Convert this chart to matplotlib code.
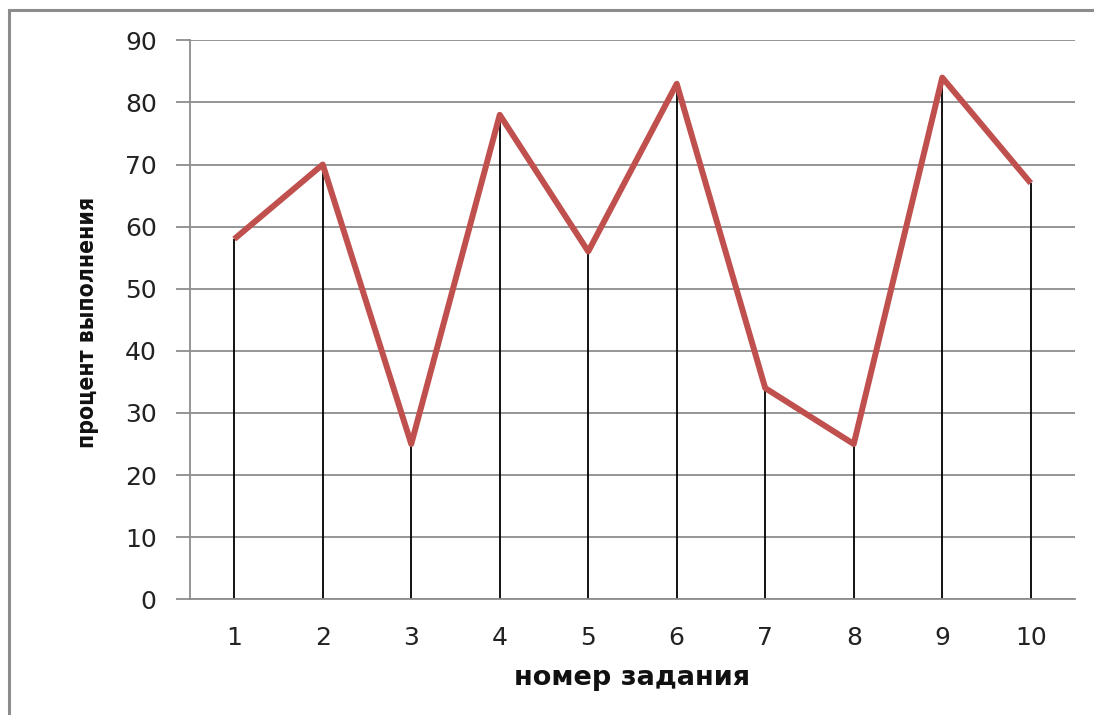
import matplotlib
matplotlib.use("Agg")
import matplotlib.pyplot as plt
from matplotlib.patches import Rectangle

tasks = [1, 2, 3, 4, 5, 6, 7, 8, 9, 10]
percent = [58, 70, 25, 78, 56, 83, 34, 25, 84, 67]
y_ticks = [0, 10, 20, 30, 40, 50, 60, 70, 80, 90]
x_label = "номер задания"
y_label = "процент выполнения"

fig = plt.figure(figsize=(10.94, 7.15), dpi=100)
fig.patch.set_facecolor("white")

# outer chart frame
fig.patches.append(Rectangle((9 / 1094, -0.05), 1.2, 1 - 10 / 715 + 0.05,
                             transform=fig.transFigure, fill=False,
                             edgecolor="#8c8c8c", linewidth=2.2, zorder=0))

ax = fig.add_axes([190 / 1094, 1 - 599.3 / 715, (1075 - 190) / 1094, (599.3 - 40.3) / 715])

ax.set_xlim(0.5, 10.5)
ax.set_ylim(0, 90)
ax.set_yticks(y_ticks)
ax.set_xticks(tasks)
ax.set_xticklabels([str(t) for t in tasks])

ax.grid(axis="y", color="#8c8c8c", linewidth=1.3, zorder=0)
ax.set_axisbelow(True)

for s in ["top", "right"]:
    ax.spines[s].set_visible(False)
for s in ["left", "bottom"]:
    ax.spines[s].set_color("#8c8c8c")
    ax.spines[s].set_linewidth(1.3)

ax.tick_params(axis="y", length=10, width=1.3, color="#8c8c8c", pad=14,
               labelsize=18, labelcolor="#222222")
ax.tick_params(axis="x", length=0, pad=19, labelsize=18, labelcolor="#222222")

ax.vlines(tasks, 0, percent, colors="black", linewidth=1.3, zorder=2)
ax.plot(tasks, percent, color="#C0504D", linewidth=4.3,
        solid_joinstyle="round", solid_capstyle="butt", zorder=3)

ax.set_xlabel(x_label, fontsize=19.5, fontweight="bold", color="#111111")
ax.set_ylabel(y_label, family="DejaVu Sans", fontstretch="condensed",
              fontsize=16.5, fontweight="bold", color="#111111")
ax.xaxis.set_label_coords(0.5, -0.118)
ax.yaxis.set_label_coords(-0.103, 0.495)

fig.savefig("out.png", dpi=100)
